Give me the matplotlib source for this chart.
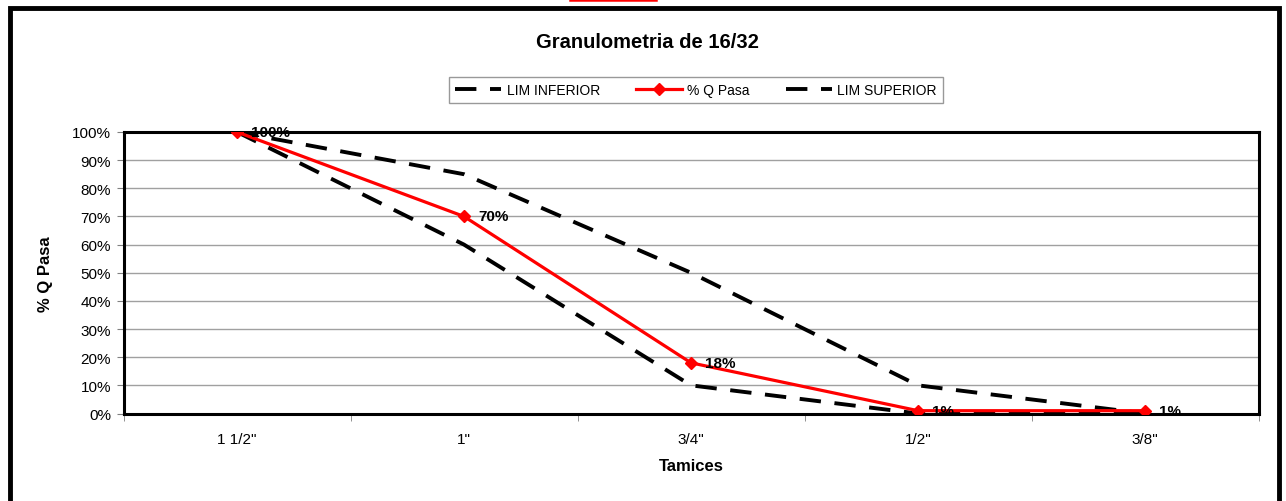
import matplotlib
matplotlib.use("Agg")
import matplotlib.pyplot as plt
from matplotlib.patches import Rectangle
from matplotlib.lines import Line2D
import numpy as np

plt.rcParams['font.family'] = ['Liberation Sans', 'DejaVu Sans']

categories = ['1 1/2"', '1"', '3/4"', '1/2"', '3/8"']
lim_inferior = [100, 60, 10, 0, 0]
pasa = [100, 70, 18, 1, 1]
lim_superior = [100, 85, 50, 10, 0]
pasa_labels = ['100%', '70%', '18%', '1%', '1%']
yticks = list(range(0, 101, 10))

W, H = 1286, 502
fig = plt.figure(figsize=(W / 100, H / 100), dpi=100)

def fx(px):
    return px / W

def fy(py):
    return 1 - py / H

ax = fig.add_axes([fx(123.5), fy(414.5), fx(1258.5) - fx(123.5), fy(133) - fy(414.5)])

x = np.arange(len(categories))
dash = (5.5, 3.5)
ax.plot(x, lim_inferior, color='black', lw=2.8, dashes=dash, label='LIM INFERIOR', zorder=3)
ax.plot(x, pasa, color='#ff0000', lw=2.3, marker='D', ms=6.5, mfc='#ff0000', mec='#ff0000',
        label='% Q Pasa', zorder=4)
ax.plot(x, lim_superior, color='black', lw=2.8, dashes=dash, label='LIM SUPERIOR', zorder=3)

for xi, yi, lab in zip(x, pasa, pasa_labels):
    ax.annotate(lab, (xi, yi), xytext=(10, 0), textcoords='offset points',
                fontsize=11, fontweight='bold', va='center', ha='left', zorder=5)

ax.set_xlim(-0.5, len(categories) - 0.5)
ax.set_ylim(0, 100)
ax.set_yticks(yticks)
ax.set_yticklabels([f'{v}%' for v in yticks], fontsize=11)
ax.set_xticks(x)
ax.set_xticklabels(categories, fontsize=11)
ax.set_xticks(np.arange(-0.5, len(categories), 1.0), minor=True)
ax.tick_params(axis='x', which='major', length=0, pad=13)
ax.tick_params(axis='x', which='minor', length=5, color='#808080', direction='out')
ax.tick_params(axis='y', length=5, color='#808080', direction='out', pad=4)
ax.yaxis.grid(True, color='#a0a0a0', lw=1)
ax.set_axisbelow(True)
for s in ax.spines.values():
    s.set_linewidth(2.2)
    s.set_color('black')

ax.set_xlabel('Tamices', fontsize=12, fontweight='bold', labelpad=9)
ax.set_ylabel('% Q Pasa', fontsize=12, fontweight='bold', labelpad=14)

fig.text(fx(647), fy(43), 'Granulometria de 16/32', ha='center', va='center',
         fontsize=14.5, fontweight='bold')

leg = fig.legend(handles=ax.get_lines(), loc='center', ncol=3,
                 bbox_to_anchor=(fx(696), fy(91)), fontsize=10, frameon=True,
                 fancybox=False, edgecolor='#808080', handlelength=3.3, columnspacing=2.6,
                 handletextpad=0.4, borderpad=0.45)
leg.get_frame().set_linewidth(1)

# outer frame
fig.add_artist(Rectangle((fx(10), fy(520)), fx(1279) - fx(10), fy(8.5) - fy(520),
                         transform=fig.transFigure, fill=False, edgecolor='black', lw=3.5))
# red mark at top
fig.add_artist(Line2D([fx(570), fx(656)], [fy(1), fy(1)], transform=fig.transFigure,
                      color='#ff0000', lw=1.8))

fig.savefig('out.png', dpi=100)
